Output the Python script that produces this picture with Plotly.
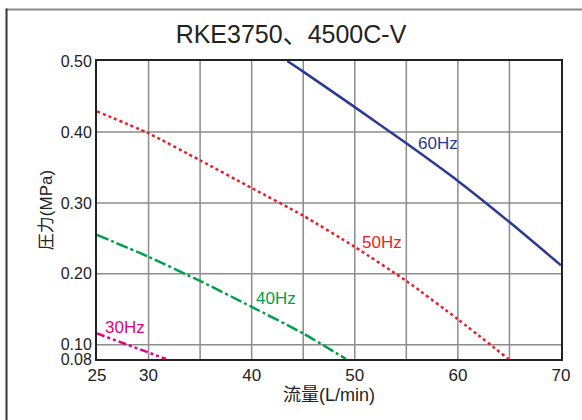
import plotly.graph_objects as go

# Data
flow_60 = [43.45, 45, 50, 55, 60, 65, 70]
pres_60 = [0.50, 0.485, 0.435, 0.384, 0.331, 0.273, 0.212]

flow_50 = [25, 30, 35, 40, 45, 50, 55, 60, 64.9]
pres_50 = [0.429, 0.398, 0.360, 0.321, 0.282, 0.238, 0.190, 0.136, 0.08]

flow_40 = [25, 30, 35, 40, 45, 49.15]
pres_40 = [0.255, 0.224, 0.190, 0.1535, 0.116, 0.08]

flow_30 = [25, 30, 31.7]
pres_30 = [0.116, 0.089, 0.08]

x_ticks = [25, 30, 40, 50, 60, 70]
y_ticks = [0.08, 0.10, 0.20, 0.30, 0.40, 0.50]
y_tick_labels = ["0.08", "0.10", "0.20", "0.30", "0.40", "0.50"]
x_grid = [30, 35, 40, 45, 50, 55, 60, 65]
y_grid = [0.10, 0.20, 0.30, 0.40]

labels = ["60Hz", "50Hz", "40Hz", "30Hz"]
label_x = [58.1, 52.6, 42.4, 27.7]
label_y = [0.384, 0.244, 0.165, 0.125]

title = "RKE3750、4500C-V"
x_title = "流量(L/min)"
y_title = "圧力(MPa)"

C60 = "#2b3990"
C50 = "#ed1c24"
C40 = "#00a04a"
C30 = "#e4007f"
FONT = "Liberation Sans, Arial, Noto Sans CJK JP, sans-serif"

fig = go.Figure()

shapes = []
for gx in x_grid:
    shapes.append(dict(type="line", xref="x", yref="y", x0=gx, x1=gx, y0=0.08, y1=0.50,
                       line=dict(color="#8c8c8c", width=1.5), layer="below"))
for gy in y_grid:
    shapes.append(dict(type="line", xref="x", yref="y", x0=25, x1=70, y0=gy, y1=gy,
                       line=dict(color="#8c8c8c", width=1.5), layer="below"))
# outer frame (partial, top and left)
shapes.append(dict(type="line", xref="paper", yref="paper", x0=-0.195, x1=1.2, y0=1.1725, y1=1.1725,
                   line=dict(color="#8a8a8a", width=2)))
shapes.append(dict(type="line", xref="paper", yref="paper", x0=-0.195, x1=-0.195, y0=-0.3, y1=1.176,
                   line=dict(color="#333333", width=2)))

fig.add_trace(go.Scatter(x=flow_60, y=pres_60, mode="lines",
                         line=dict(color=C60, width=2.5, shape="spline", smoothing=0.6), hoverinfo="skip"))
fig.add_trace(go.Scatter(x=flow_50, y=pres_50, mode="lines",
                         line=dict(color=C50, width=2.5, dash="3px,3px", shape="spline", smoothing=0.6),
                         hoverinfo="skip"))
fig.add_trace(go.Scatter(x=flow_40, y=pres_40, mode="lines",
                         line=dict(color=C40, width=2.5, dash="12px,3px,3px,3px", shape="spline", smoothing=0.6),
                         hoverinfo="skip"))
fig.add_trace(go.Scatter(x=flow_30, y=pres_30, mode="lines",
                         line=dict(color=C30, width=2.5, dash="8px,3px,3px,3px,3px,3px"), hoverinfo="skip"))

colors = [C60, C50, C40, C30]
annotations = []
for t, lx, ly, c in zip(labels, label_x, label_y, colors):
    annotations.append(dict(x=lx, y=ly, xref="x", yref="y", text=t, showarrow=False,
                            font=dict(family=FONT, size=17, color=c)))

fig.update_layout(
    width=582, height=420,
    margin=dict(l=97, r=19, t=61, b=61),
    paper_bgcolor="white", plot_bgcolor="white",
    showlegend=False,
    title=dict(text=title, x=0.5, xanchor="center", y=0.918, yanchor="middle",
               font=dict(family=FONT, size=25, color="#222222")),
    font=dict(family=FONT, size=16, color="#222222"),
    shapes=shapes,
    annotations=annotations,
)
fig.update_xaxes(range=[25, 70], tickvals=x_ticks, ticktext=[str(v) for v in x_ticks],
                 showgrid=False, zeroline=False, showline=True, linecolor="#222222", linewidth=2,
                 mirror=True, ticks="", tickfont=dict(size=17, family=FONT, color="#222222"),
                 title=dict(text=x_title, font=dict(size=18, family=FONT, color="#222222"), standoff=4))
fig.update_yaxes(range=[0.08, 0.50], tickvals=y_ticks, ticktext=y_tick_labels,
                 showgrid=False, zeroline=False, showline=True, linecolor="#222222", linewidth=2,
                 mirror=True, ticks="", tickfont=dict(size=16, family=FONT, color="#222222"),
                 title=dict(text=y_title, font=dict(size=17, family=FONT, color="#222222"), standoff=4))

fig.write_html("out.html", config={"displayModeBar": False},
               post_script="document.body.style.margin='0';")
